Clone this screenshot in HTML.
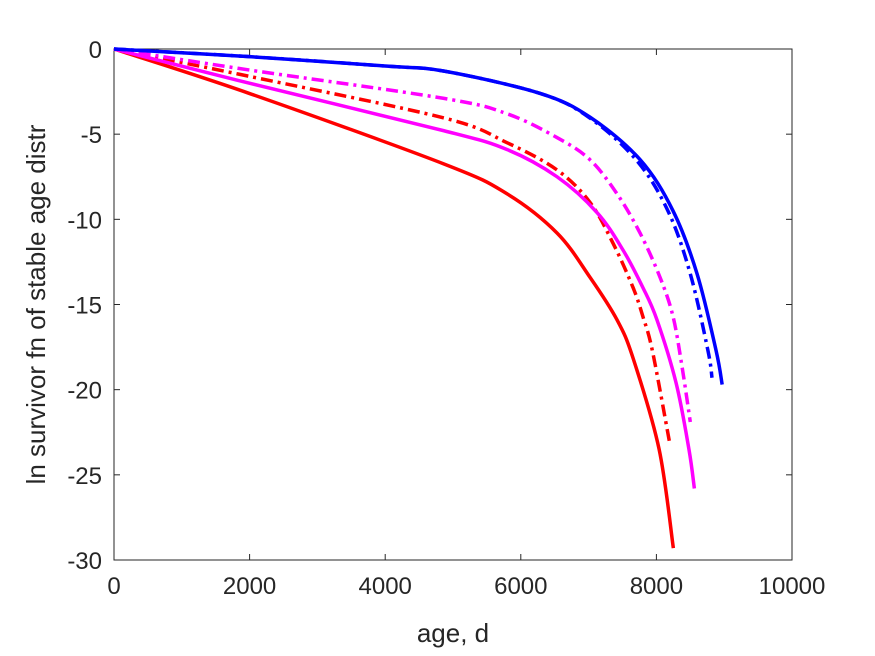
<!DOCTYPE html>
<html><head><meta charset="utf-8"><style>
body{margin:0;background:#fff;}
svg{display:block;font-family:"Liberation Sans",sans-serif;}
</style></head><body>
<svg id="chart" width="875" height="656"></svg>
<script>
const xTicks=[0,2000,4000,6000,8000,10000];
const yTicks=[0,-5,-10,-15,-20,-25,-30];
const blueSolidX=[0,2000,4000,4870,6280,7020,7760,8245,8600,8880,8970];
const blueSolidY=[0,-0.45,-1.0,-1.3,-2.6,-4.0,-6.5,-9.5,-13.2,-17.7,-19.7];
const blueDashX=[0,2000,4000,4870,6280,7000,7700,8170,8500,8760,8820];
const blueDashY=[0,-0.45,-1.0,-1.3,-2.6,-4.0,-6.5,-9.5,-13.2,-17.7,-19.3];
const magDashX=[0,1990,4867,5796,6534,7020,7419,7758,8053,8245,8380,8500];
const magDashY=[0,-1.23,-2.9,-3.8,-5.2,-6.5,-8.5,-10.8,-13.4,-15.7,-18.7,-21.9];
const magSolidX=[0,1990,4867,5796,6534,7124,7507,7800,8008,8290,8480,8560];
const magSolidY=[0,-2.0,-4.8,-5.9,-7.5,-9.6,-11.8,-14.0,-15.9,-19.6,-23.5,-25.8];
const redDashX=[0,1990,4867,5796,6534,7020,7360,7655,7800,7940,8190];
const redDashY=[0,-1.6,-4.05,-5.5,-7.1,-9.0,-11.4,-14.0,-15.7,-17.7,-23.0];
const redSolidX=[0,1990,4867,5796,6534,7020,7419,7660,8040,8250];
const redSolidY=[0,-2.6,-6.75,-8.5,-10.8,-13.4,-15.9,-18.2,-23.5,-29.3];
const L=114,R=792,T=49,B=560;
const sx=v=>L+(v-0)/(10000)*(R-L);
const sy=v=>T+(0-v)/30*(B-T);
const svg=document.getElementById('chart');
const NS='http://www.w3.org/2000/svg';
function mk(tag,attrs){const e=document.createElementNS(NS,tag);for(const k in attrs)e.setAttribute(k,attrs[k]);svg.appendChild(e);return e;}
const box=mk('rect',{x:L,y:T,width:R-L,height:B-T,fill:'#fff',stroke:'#262626','stroke-width':1});


xTicks.forEach(t=>{
  const x=sx(t);
  const a=mk('line',{x1:x,x2:x,y1:B,y2:B-6,stroke:'#262626'});
  
  
  const b=mk('line',{x1:x,x2:x,y1:T,y2:T+6,stroke:'#262626'});
  
  
  const tx=mk('text',{x:x,y:B+34,'text-anchor':'middle','font-size':24,fill:'#262626'});
  tx.textContent=t;
  
  
});
yTicks.forEach(t=>{
  const y=sy(t);
  const a=mk('line',{x1:L,x2:L+6,y1:y,y2:y,stroke:'#262626'});
  
  
  const b=mk('line',{x1:R,x2:R-6,y1:y,y2:y,stroke:'#262626'});
  
  
  const tx=mk('text',{x:L-12,y:y+9,'text-anchor':'end','font-size':24,fill:'#262626'});
  tx.textContent=t;
  
  
});
function series(xs,ys,color,dash,name){
  const pts=xs.map((x,i)=>[sx(x),sy(ys[i])]);
  let d='M'+pts[0][0]+','+pts[0][1];
  for(let i=0;i<pts.length-1;i++){
    const p0=pts[Math.max(0,i-1)],p1=pts[i],p2=pts[i+1],p3=pts[Math.min(pts.length-1,i+2)];
    const c1=[p1[0]+(p2[0]-p0[0])/6,p1[1]+(p2[1]-p0[1])/6];
    const c2=[p2[0]-(p3[0]-p1[0])/6,p2[1]-(p3[1]-p1[1])/6];
    d+=' C'+c1[0]+','+c1[1]+' '+c2[0]+','+c2[1]+' '+p2[0]+','+p2[1];
  }
  const p=mk('path',{d:d,fill:'none',stroke:color,'stroke-width':3.5});
  if(dash)p.setAttribute('stroke-dasharray','12,5,3,5');
  
  
}
series(redSolidX,redSolidY,'#ff0000',false,'red-solid-line');
series(redDashX,redDashY,'#ff0000',true,'red-dashdot-line');
series(magSolidX,magSolidY,'#ff00ff',false,'magenta-solid-line');
series(magDashX,magDashY,'#ff00ff',true,'magenta-dashdot-line');
series(blueDashX,blueDashY,'#0000ff',true,'blue-dashdot-line');
series(blueSolidX,blueSolidY,'#0000ff',false,'blue-solid-line');
const xl=mk('text',{x:(L+R)/2,y:642,'text-anchor':'middle','font-size':26,fill:'#262626'});
xl.textContent='age, d';


const yl=mk('text',{x:0,y:0,'text-anchor':'middle','font-size':26,fill:'#262626',transform:'translate(45,'+((T+B)/2)+') rotate(-90)'});
yl.textContent='ln survivor fn of stable age distr';


</script>
</body></html>
